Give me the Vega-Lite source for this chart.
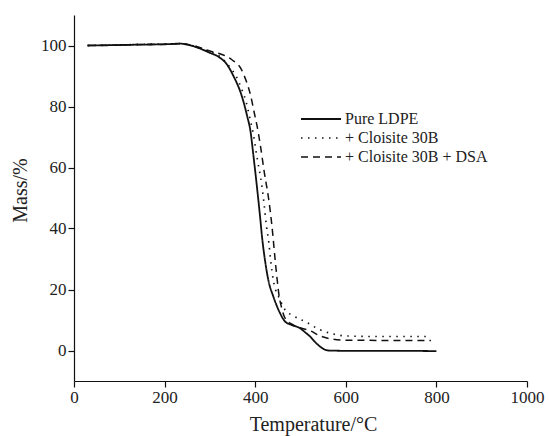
{
  "$schema": "https://vega.github.io/schema/vega-lite/v6.json",
  "width": 453,
  "height": 366,
  "autosize": {"type": "none"},
  "padding": {"left": 74, "top": 15, "right": 22, "bottom": 55},
  "background": "white",
  "config": {
    "view": {"stroke": null},
    "font": "Liberation Serif, serif",
    "axis": {
      "grid": false,
      "domainColor": "#111",
      "tickColor": "#111",
      "labelColor": "#222",
      "titleColor": "#222",
      "labelFont": "Liberation Serif, serif",
      "titleFont": "Liberation Serif, serif",
      "labelFontSize": 17,
      "titleFontSize": 20,
      "titleFontWeight": "normal",
      "tickSize": 6,
      "domainWidth": 1.2,
      "tickWidth": 1.2
    },
    "legend": {"labelFont": "Liberation Serif, serif"}
  },
  "data": {
    "values": [
      {"s": "Pure LDPE", "T": 30, "M": 100.0},
      {"s": "Pure LDPE", "T": 80, "M": 100.1},
      {"s": "Pure LDPE", "T": 150, "M": 100.3},
      {"s": "Pure LDPE", "T": 200, "M": 100.4},
      {"s": "Pure LDPE", "T": 234, "M": 100.6},
      {"s": "Pure LDPE", "T": 260, "M": 99.9},
      {"s": "Pure LDPE", "T": 300, "M": 97.6},
      {"s": "Pure LDPE", "T": 320, "M": 96.2},
      {"s": "Pure LDPE", "T": 337, "M": 93.9},
      {"s": "Pure LDPE", "T": 352, "M": 90.0},
      {"s": "Pure LDPE", "T": 370, "M": 83.6},
      {"s": "Pure LDPE", "T": 382, "M": 77.0},
      {"s": "Pure LDPE", "T": 390, "M": 71.5},
      {"s": "Pure LDPE", "T": 396, "M": 64.0},
      {"s": "Pure LDPE", "T": 403, "M": 54.8},
      {"s": "Pure LDPE", "T": 410, "M": 45.0},
      {"s": "Pure LDPE", "T": 416, "M": 36.0},
      {"s": "Pure LDPE", "T": 421.6, "M": 29.6},
      {"s": "Pure LDPE", "T": 429, "M": 23.1},
      {"s": "Pure LDPE", "T": 440, "M": 17.7},
      {"s": "Pure LDPE", "T": 455, "M": 12.2},
      {"s": "Pure LDPE", "T": 466, "M": 9.5},
      {"s": "Pure LDPE", "T": 480, "M": 8.4},
      {"s": "Pure LDPE", "T": 499, "M": 7.3},
      {"s": "Pure LDPE", "T": 510, "M": 6.0},
      {"s": "Pure LDPE", "T": 521, "M": 4.6},
      {"s": "Pure LDPE", "T": 532, "M": 2.8},
      {"s": "Pure LDPE", "T": 543, "M": 1.3},
      {"s": "Pure LDPE", "T": 552, "M": 0.4},
      {"s": "Pure LDPE", "T": 561, "M": 0.0},
      {"s": "Pure LDPE", "T": 600, "M": -0.1},
      {"s": "Pure LDPE", "T": 700, "M": -0.1},
      {"s": "Pure LDPE", "T": 800, "M": -0.2},

      {"s": "+ Cloisite 30B", "T": 30, "M": 100.0},
      {"s": "+ Cloisite 30B", "T": 80, "M": 100.1},
      {"s": "+ Cloisite 30B", "T": 150, "M": 100.4},
      {"s": "+ Cloisite 30B", "T": 200, "M": 100.5},
      {"s": "+ Cloisite 30B", "T": 234, "M": 100.6},
      {"s": "+ Cloisite 30B", "T": 260, "M": 100.0},
      {"s": "+ Cloisite 30B", "T": 300, "M": 97.9},
      {"s": "+ Cloisite 30B", "T": 320, "M": 96.6},
      {"s": "+ Cloisite 30B", "T": 344, "M": 92.9},
      {"s": "+ Cloisite 30B", "T": 359, "M": 89.6},
      {"s": "+ Cloisite 30B", "T": 370, "M": 85.8},
      {"s": "+ Cloisite 30B", "T": 380, "M": 81.5},
      {"s": "+ Cloisite 30B", "T": 388.5, "M": 76.0},
      {"s": "+ Cloisite 30B", "T": 397, "M": 70.0},
      {"s": "+ Cloisite 30B", "T": 402, "M": 65.1},
      {"s": "+ Cloisite 30B", "T": 405.5, "M": 62.0},
      {"s": "+ Cloisite 30B", "T": 414, "M": 54.8},
      {"s": "+ Cloisite 30B", "T": 419.5, "M": 48.2},
      {"s": "+ Cloisite 30B", "T": 425, "M": 40.6},
      {"s": "+ Cloisite 30B", "T": 430, "M": 35.5},
      {"s": "+ Cloisite 30B", "T": 434, "M": 29.7},
      {"s": "+ Cloisite 30B", "T": 440, "M": 23.1},
      {"s": "+ Cloisite 30B", "T": 455, "M": 16.6},
      {"s": "+ Cloisite 30B", "T": 466, "M": 13.3},
      {"s": "+ Cloisite 30B", "T": 484, "M": 11.4},
      {"s": "+ Cloisite 30B", "T": 513.6, "M": 9.2},
      {"s": "+ Cloisite 30B", "T": 543, "M": 6.8},
      {"s": "+ Cloisite 30B", "T": 565, "M": 5.7},
      {"s": "+ Cloisite 30B", "T": 598, "M": 4.8},
      {"s": "+ Cloisite 30B", "T": 650, "M": 4.6},
      {"s": "+ Cloisite 30B", "T": 700, "M": 4.6},
      {"s": "+ Cloisite 30B", "T": 788, "M": 4.6},

      {"s": "+ Cloisite 30B + DSA", "T": 30, "M": 100.0},
      {"s": "+ Cloisite 30B + DSA", "T": 80, "M": 100.1},
      {"s": "+ Cloisite 30B + DSA", "T": 150, "M": 100.3},
      {"s": "+ Cloisite 30B + DSA", "T": 200, "M": 100.4},
      {"s": "+ Cloisite 30B + DSA", "T": 234, "M": 100.6},
      {"s": "+ Cloisite 30B + DSA", "T": 260, "M": 100.1},
      {"s": "+ Cloisite 30B + DSA", "T": 300, "M": 98.2},
      {"s": "+ Cloisite 30B + DSA", "T": 322, "M": 97.3},
      {"s": "+ Cloisite 30B + DSA", "T": 348, "M": 95.4},
      {"s": "+ Cloisite 30B + DSA", "T": 370, "M": 92.0},
      {"s": "+ Cloisite 30B + DSA", "T": 381, "M": 88.0},
      {"s": "+ Cloisite 30B + DSA", "T": 390, "M": 83.6},
      {"s": "+ Cloisite 30B + DSA", "T": 397, "M": 78.6},
      {"s": "+ Cloisite 30B + DSA", "T": 407, "M": 71.3},
      {"s": "+ Cloisite 30B + DSA", "T": 412, "M": 66.7},
      {"s": "+ Cloisite 30B + DSA", "T": 420, "M": 58.5},
      {"s": "+ Cloisite 30B + DSA", "T": 429, "M": 50.4},
      {"s": "+ Cloisite 30B + DSA", "T": 433, "M": 46.0},
      {"s": "+ Cloisite 30B + DSA", "T": 438.6, "M": 38.4},
      {"s": "+ Cloisite 30B + DSA", "T": 442, "M": 32.9},
      {"s": "+ Cloisite 30B + DSA", "T": 447, "M": 25.3},
      {"s": "+ Cloisite 30B + DSA", "T": 453, "M": 17.7},
      {"s": "+ Cloisite 30B + DSA", "T": 458.5, "M": 13.9},
      {"s": "+ Cloisite 30B + DSA", "T": 466, "M": 10.6},
      {"s": "+ Cloisite 30B + DSA", "T": 484, "M": 8.4},
      {"s": "+ Cloisite 30B + DSA", "T": 502.6, "M": 7.3},
      {"s": "+ Cloisite 30B + DSA", "T": 521, "M": 6.5},
      {"s": "+ Cloisite 30B + DSA", "T": 543, "M": 4.8},
      {"s": "+ Cloisite 30B + DSA", "T": 572, "M": 3.7},
      {"s": "+ Cloisite 30B + DSA", "T": 598, "M": 3.4},
      {"s": "+ Cloisite 30B + DSA", "T": 700, "M": 3.3},
      {"s": "+ Cloisite 30B + DSA", "T": 788, "M": 3.3}
    ]
  },
  "mark": {"type": "line", "interpolate": "monotone", "color": "#111", "clip": true},
  "encoding": {
    "x": {
      "field": "T", "type": "quantitative",
      "scale": {"domain": [0, 1000], "nice": false, "zero": false},
      "axis": {"values": [0, 200, 400, 600, 800, 1000], "format": "d", "title": "Temperature/°C", "labelPadding": 2, "titlePadding": 9, "titleX": 239, "titleAlign": "center", "labelFlush": false}
    },
    "y": {
      "field": "M", "type": "quantitative",
      "scale": {"domain": [-10, 110], "nice": false, "zero": false},
      "axis": {"values": [0, 20, 40, 60, 80, 100], "format": "d", "title": "Mass/%", "labelPadding": 2, "titlePadding": 10, "titleY": 175, "titleAlign": "center"}
    },
    "strokeDash": {
      "field": "s", "type": "nominal",
      "scale": {
        "domain": ["Pure LDPE", "+ Cloisite 30B", "+ Cloisite 30B + DSA"],
        "range": [[1, 0], [1.5, 5.5], [7, 5]]
      },
      "legend": {
        "title": null,
        "orient": "none",
        "legendX": 226,
        "legendY": 93,
        "symbolType": "M-1,0H3",
        "symbolSize": 400,
        "symbolStrokeColor": "#111",
        "symbolStrokeWidth": 1.5,
        "symbolFillColor": "transparent",
        "labelFont": "Liberation Serif, serif",
        "labelFontSize": 16,
        "labelColor": "#222",
        "labelOffset": 23,
        "rowPadding": 0,
        "padding": 0
      }
    },
    "strokeWidth": {
      "field": "s", "type": "nominal",
      "scale": {
        "domain": ["Pure LDPE", "+ Cloisite 30B", "+ Cloisite 30B + DSA"],
        "range": [1.8, 1.5, 1.8]
      },
      "legend": null
    }
  }
}
